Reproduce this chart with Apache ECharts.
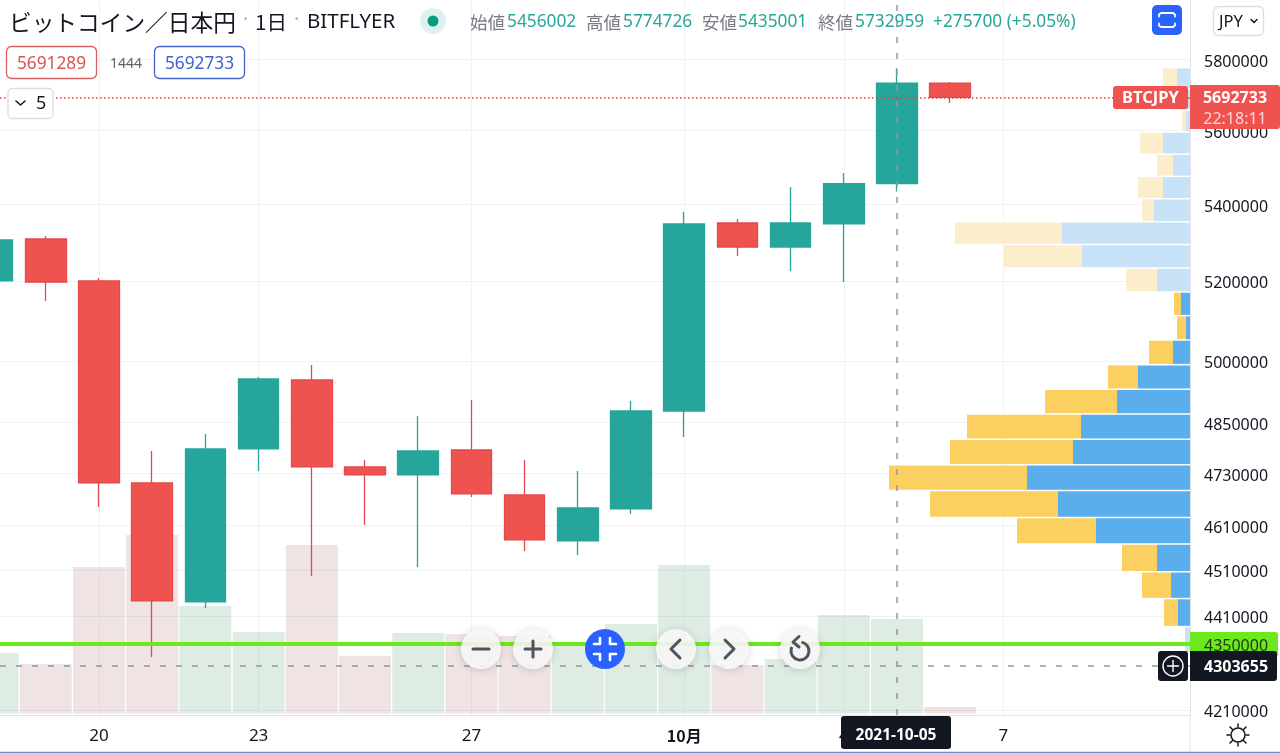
<!DOCTYPE html>
<html><head><meta charset="utf-8">
<script src="https://cdn.jsdelivr.net/npm/echarts@6/dist/echarts.min.js"></script>
<style>html,body{margin:0;padding:0;background:#fff}#c{width:1280px;height:753px}</style>
</head><body><div id="c"></div>
<script>
// ---- data ----
const dates = ['18','19','20','21','22','23','24','25','26','27','28','29','30','10月','2','3','4','5','6','7'];
const openPrice  = [5200600,5309300,5200600,4708200,4440200,4787600,4953100,4745400,4726700,4785200,4680500,4575700,4648400,4878000,5351300,5288400,5348700,5456002,5732959];
const closePrice = [5306700,5198000,4708200,4442400,4787600,4955600,4745400,4726700,4783000,4682800,4577900,4650600,4878000,5348700,5288400,5351300,5456002,5732959,5692733];
const lowPrice   = [5190000,5149600,4652900,4321500,4427100,4736000,4497400,4611900,4517300,4675900,4553100,4544200,4636900,4816000,5265000,5226300,5198000,5435001,5677100];
const highPrice  = [5320000,5317200,5208300,4783000,4823200,4960500,4989800,4761800,4866100,4904600,4761800,4736000,4902200,5380400,5361800,5447000,5484600,5774726,5736100];
const volume     = [605,495,1465,1785,1075,815,1685,575,805,795,775,695,895,1485,485,545,985,945,65];
const priceTicks = [5800000,5600000,5400000,5200000,5000000,4850000,4730000,4610000,4510000,4410000,4350000,4210000];
const dateTicks  = [2,5,9,13,16,19];
const profileEdges = [5776000,5716000,5656000,5596000,5535000,5475000,5415000,5354000,5294000,5233000,5172000,5112000,5051000,4990000,4930000,4870000,4810000,4750000,4690000,4628000,4568000,4506000,4447000,4386000,4330000];
const profileBuy   = [13,14,4,27,17,27,36,128,108,33,9,4,17,52,73,109,117,163,132,94,33,19,12,5];
const profileSell  = [14,10,4,23,16,25,12,107,78,31,7,9,24,30,72,114,123,138,128,79,35,29,14,0];
const profileInValueArea = [0,0,0,0,0,0,0,0,0,0,1,1,1,1,1,1,1,1,1,1,1,1,1,0];
const lastPrice = 5692733, alertPrice = 4350000, crossPrice = 4303655, crossIndex = 17;
const crossDate = '2021-10-05', countdown = '22:18:11', symbolTag = 'BTCJPY';
const titleText = 'ビットコイン／日本円', intervalText = '1日', exchangeText = 'BITFLYER';
const ohlcNames = ['始値','高値','安値','終値'];
const ohlcValues = ['5456002','5774726','5435001','5732959'];
const changeText = '+275700 (+5.05%)';
const bidText = '5691289', spreadText = '1444', askText = '5692733', hiddenCount = '5', currency = 'JPY';

// ---- styles ----
const UP='#26a69a', DOWN='#ef5350', INK='#131722', NUM='"Noto Sans",sans-serif';
const JP='"Noto Sans CJK JP","Noto Sans",sans-serif';
const GRID='#f0f2f5';

const candleData = dates.slice(0,openPrice.length).map((d,i)=>[i,openPrice[i],closePrice[i],lowPrice[i],highPrice[i]]);
const volData = volume.map((v,i)=>({value:[i,v],itemStyle:{color:closePrice[i]>=openPrice[i]?'rgba(100,165,125,.21)':'rgba(150,70,70,.15)'}}));
const profileData = profileBuy.map((b,i)=>[b,profileSell[i],profileEdges[i],profileEdges[i+1],profileInValueArea[i]]);

function T(x,y,text,font,fill,align,extra){
  return Object.assign({type:'text',x,y:y+1,z:100,silent:true,style:{text,font,fill,textAlign:align||'left',align:align||'left',textVerticalAlign:'middle',verticalAlign:'middle'}},extra||{});
}
function R(x,y,w,h,r,fill,stroke,lw,extra){
  return Object.assign({type:'rect',z:100,silent:true,shape:{x,y,width:w,height:h,r},style:{fill:fill||'none',stroke:stroke||'none',lineWidth:lw||1}},extra||{});
}
function P(pts,stroke,lw,z){
  return {type:'polyline',z:z||101,silent:true,shape:{points:pts},style:{stroke,lineWidth:lw,fill:'none',lineCap:'round',lineJoin:'round'}};
}
function C(x,y,r,fill,stroke,lw,shadow){
  const s={fill:fill||'none',stroke:stroke||'none',lineWidth:lw||1};
  if(shadow){s.shadowBlur=9;s.shadowColor='rgba(0,0,0,.18)';s.shadowOffsetY=1;}
  return {type:'circle',z:100,silent:true,shape:{cx:x,cy:y,r},style:s};
}
const HDR='17.3px "Noto Sans",sans-serif', HJP='17.5px '+JP;
const ICON='#50535e';
const g=[
  T(9,21,titleText,'22.7px '+JP,INK),
  T(243,19,'·','20px "Noto Sans"','#b2b5be'),
  T(255,21,intervalText,'20.5px '+JP,INK),
  T(294,19,'·','20px "Noto Sans"','#b2b5be'),
  T(307,21,exchangeText,'20.5px "Noto Sans"',INK),
  C(433,21,13,'#dff1ef'),C(433,21,5.5,'#089981'),
  T(470,21,ohlcNames[0],HJP,'#787b86'),T(507,21,ohlcValues[0],HDR,UP),
  T(586,21,ohlcNames[1],HJP,'#787b86'),T(623,21,ohlcValues[1],HDR,UP),
  T(702,21,ohlcNames[2],HJP,'#787b86'),T(738,21,ohlcValues[2],HDR,UP),
  T(818,21,ohlcNames[3],HJP,'#787b86'),T(855,21,ohlcValues[3],HDR,UP),
  T(933,21,changeText,HDR,UP),
  R(6.5,46.5,90,32,5,'#fff','#d9605c',1.3),T(51.5,63,bidText,'17.3px "Noto Sans"','#d9534f','center'),
  T(110,63,spreadText,'14px "Noto Sans"','#5d606b'),
  R(154.5,46.5,90,32,5,'#fff','#3f66c4',1.3),T(199.5,63,askText,'17.3px "Noto Sans"','#3f62d0','center'),
  R(8,88.5,45,30,4,'#fff','#dcdee3',1.3),P([[16,101],[20.5,105],[25,101]],INK,1.6),T(36,103,hiddenCount,'18px "Noto Sans"',INK),
  R(1152,5,30,30,5,'#2962ff'),
  P([[1159,16.5],[1159,14.5],[1161,13],[1173,13],[1175,14.5],[1175,16.5]],'#fff',1.8),P([[1159,23.5],[1159,25.5],[1161,27],[1173,27],[1175,25.5],[1175,23.5]],'#fff',1.8),
  R(1213.5,6.5,50,29,5,'#fff','#dcdee3',1.3),T(1219,21,currency,'16.5px "Noto Sans"',INK),P([[1251,19.5],[1254,22.5],[1257,19.5]],INK,1.5),
  // last price tags
  R(1113,86,75,23,3,'#ef5350'),T(1150.5,97.5,symbolTag,'bold 16.5px "Noto Sans"','#fff','center'),
  R(1190,85,90,44,{},'#ef5350',null,1,{shape:{x:1190,y:85,width:90,height:44,r:[0,3,3,0]}}),
  T(1235,97.5,String(lastPrice),'bold 16px '+NUM,'#fff','center'),
  T(1235,118,countdown,'16px "Noto Sans"','#fbd5d4','center'),
  // alert tag
  {type:'rect',z:100,silent:true,shape:{x:1190,y:632,width:88,height:25,r:[0,3,3,0]},style:{fill:'#6be81e'}},
  T(1204,645,String(alertPrice),'16px '+NUM,'#1d3a10'),
  // crosshair tags
  {type:'rect',z:100,silent:true,shape:{x:1190,y:651,width:87,height:30,r:[0,3,3,0]},style:{fill:INK}},
  T(1204,666,String(crossPrice),'bold 16px '+NUM,'#fff'),
  R(1158,651,30,30,3,INK),C(1173,666,10,null,'#fff',1.4),P([[1167.5,666],[1178.5,666]],'#fff',1.4),P([[1173,660.5],[1173,671.5]],'#fff',1.4),
  R(841,716,110,33,3,INK),T(896,735,crossDate,'bold 15.5px "Noto Sans"','#fff','center'),
  // zoom and scroll buttons
  C(481,649,20,'rgba(250,249,249,.88)',null,1,true),P([[473,649],[489,649]],ICON,3),
  C(533,649,20,'rgba(250,249,249,.88)',null,1,true),P([[525,649],[541,649]],ICON,3),P([[533,641],[533,657]],ICON,3),
  C(605,649,20,'#2962ff'),
  P([[594,644],[600,644],[600,638]],'#fff',2.6),P([[610,638],[610,644],[616,644]],'#fff',2.6),
  P([[594,654],[600,654],[600,660]],'#fff',2.6),P([[616,654],[610,654],[610,660]],'#fff',2.6),
  C(676,649,20,'rgba(250,249,249,.88)',null,1,true),P([[680,640],[671,649],[680,658]],ICON,3),
  C(729,649,20,'rgba(250,249,249,.88)',null,1,true),P([[725,640],[734,649],[725,658]],ICON,3),
  C(800,649,20,'rgba(250,249,249,.88)',null,1,true),
  {type:'arc',z:101,silent:true,shape:{cx:800,cy:651,r:9,startAngle:-1.4,endAngle:3.6,clockwise:true},style:{stroke:ICON,lineWidth:3,fill:'none'}},
  P([[799,636.5],[793,642],[799,647]],ICON,3),
  // theme button
  C(1238,735,7,null,INK,1.5),
  P([[1238,724],[1238,727]],INK,1.5),P([[1238,743],[1238,746]],INK,1.5),P([[1227,735],[1230,735]],INK,1.5),P([[1246,735],[1249,735]],INK,1.5),
  P([[1230,727],[1232.5,729.5]],INK,1.5),P([[1243.5,740.5],[1246,743]],INK,1.5),P([[1246,727],[1243.5,729.5]],INK,1.5),P([[1232.5,740.5],[1230,743]],INK,1.5),
  // frame
  {type:'line',z:99,silent:true,shape:{x1:1190,y1:715,x2:1190,y2:753},style:{stroke:'#e0e3eb',lineWidth:1}},
  {type:'line',z:99,silent:true,shape:{x1:0,y1:752.5,x2:1280,y2:752.5},style:{stroke:'#6f8fcb',lineWidth:1.5}}
];

const chart=echarts.init(document.getElementById('c'),null,{renderer:'canvas'});
chart.setOption({
  animation:false,backgroundColor:'#fff',
  grid:{left:0,top:0,width:1190,height:715,containLabel:false,outerBoundsMode:'none'},
  xAxis:[
    {type:'value',min:0.139,max:22.507,position:'bottom',
     axisLine:{show:true,onZero:false,lineStyle:{color:'#e0e3eb',width:1}},
     axisTick:{show:false,customValues:dateTicks},
     splitLine:{show:true,lineStyle:{color:GRID,width:1}},
     axisLabel:{customValues:dateTicks,margin:13,fontSize:17,color:INK,fontFamily:'"Noto Sans",sans-serif',hideOverlap:false,
       formatter:v=>dates[v]==='10月'?'{b|10月}':dates[v],rich:{b:{fontWeight:'bold',fontSize:16,color:INK,fontFamily:JP}}}},
    {type:'value',inverse:true,min:0,max:1190,show:false,gridIndex:0,splitLine:{show:false}}
  ],
  yAxis:[
    {type:'log',logBase:10,min:4199640,max:5972500,position:'right',scale:true,
     axisLine:{show:true,onZero:false,lineStyle:{color:'#e0e3eb',width:1}},
     axisTick:{show:false,customValues:priceTicks},
     minorTick:{show:false},minorSplitLine:{show:false},
     splitLine:{show:true,lineStyle:{color:GRID,width:1}},
     axisLabel:{customValues:priceTicks,margin:14,fontSize:16,verticalAlign:'top',lineHeight:5,color:INK,fontFamily:NUM,hideOverlap:false,showMinLabel:true,showMaxLabel:true,formatter:v=>String(Math.round(v))}},
    {type:'value',min:-15,max:7135,show:false,gridIndex:0,splitLine:{show:false}}
  ],
  series:[
    {type:'bar',name:'volume',xAxisIndex:0,yAxisIndex:1,data:volData,barWidth:52,z:1,silent:true},
    {type:'custom',name:'profile',xAxisIndex:1,yAxisIndex:0,z:2,silent:true,clip:false,data:profileData,
     encode:{x:[0,1],y:[2,3]},
     renderItem(params,api){
       const buy=api.value(0),sell=api.value(1),top=api.value(2),bottom=api.value(3),on=api.value(4);
       const a=api.coord([0,top]),b=api.coord([buy,bottom]),c=api.coord([buy+sell,bottom]);
       const y=a[1]+0.5,h=b[1]-a[1]-1.5;
       return {type:'group',children:[
         {type:'rect',shape:{x:b[0],y,width:a[0]-b[0],height:h},style:{fill:on?'#5aaeec':'#c8e3f7'}},
         {type:'rect',shape:{x:c[0],y,width:b[0]-c[0],height:h},style:{fill:on?'#fbcf60':'#fdeecb'}}
       ]};
     }},
    {type:'candlestick',name:'BTCJPY',xAxisIndex:0,yAxisIndex:0,z:3,silent:true,barWidth:41,
     encode:{x:0,y:[1,2,3,4]},data:candleData,
     itemStyle:{color:UP,color0:DOWN,borderColor:UP,borderColor0:'#e5484a',borderWidth:1.3},
     markLine:{silent:true,symbol:'none',label:{show:false},animation:false,z:4,data:[
       {yAxis:lastPrice,lineStyle:{color:'#d8433c',type:[1.5,2.5],width:1.5}},
       {yAxis:crossPrice,lineStyle:{color:'#9598a1',type:[6,10],width:1.5}},
       {xAxis:crossIndex,lineStyle:{color:'#9598a1',type:[6,10],width:1.5}},
       {yAxis:alertPrice,lineStyle:{color:'#6be81e',type:'solid',width:4}}
     ]}}
  ],
  graphic:{elements:g}
});
</script></body></html>
